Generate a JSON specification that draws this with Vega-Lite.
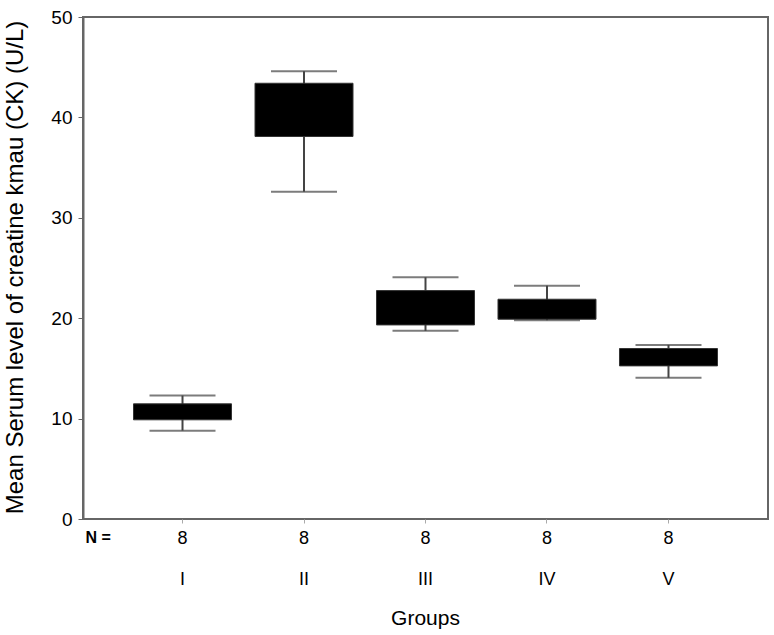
{
  "$schema": "https://vega.github.io/schema/vega-lite/v6.json",
  "width": 685,
  "height": 502,
  "autosize": {"type": "none"},
  "padding": {"left": 83, "top": 17, "right": 6, "bottom": 116},
  "background": "white",
  "config": {
    "font": "Liberation Sans",
    "view": {"stroke": "#666666", "strokeWidth": 2},
    "axis": {"grid": false, "labelColor": "black", "titleColor": "black", "titleFontWeight": "normal"},
    "title": {"font": "Liberation Sans", "fontWeight": "normal", "color": "black"}
  },
  "title": {"text": "Groups", "orient": "bottom", "anchor": "middle", "fontSize": 21, "offset": 20},
  "data": {
    "values": [
      {"group": "I", "n": 8, "lo": 8.8, "q1": 9.88, "q3": 11.47, "hi": 12.3},
      {"group": "II", "n": 8, "lo": 32.6, "q1": 38.1, "q3": 43.4, "hi": 44.6},
      {"group": "III", "n": 8, "lo": 18.74, "q1": 19.33, "q3": 22.75, "hi": 24.08},
      {"group": "IV", "n": 8, "lo": 19.8, "q1": 19.9, "q3": 21.89, "hi": 23.24},
      {"group": "V", "n": 8, "lo": 14.06, "q1": 15.25, "q3": 16.98, "hi": 17.34}
    ]
  },
  "encoding": {
    "x": {
      "field": "group",
      "type": "ordinal",
      "sort": ["I", "II", "III", "IV", "V"],
      "scale": {"type": "band", "paddingInner": 0, "paddingOuter": 0.319},
      "axis": {
        "title": "N =",
        "titleFontSize": 16,
        "titleFontWeight": "bold",
        "titleAnchor": "start",
        "titleAlign": "left",
        "titleX": 2,
        "titleY": 10,
        "titleBaseline": "top",
        "labelAngle": 0,
        "labelFontSize": 18,
        "labelLineHeight": 41,
        "labelPadding": 6,
        "labelExpr": "['8', datum.label]",
        "domain": false,
        "tickColor": "#aaaaaa",
        "tickSize": 4,
        "tickWidth": 1
      }
    }
  },
  "layer": [
    {
      "mark": {"type": "rule", "color": "#444444", "strokeWidth": 2},
      "encoding": {
        "y": {
          "field": "lo",
          "type": "quantitative",
          "scale": {"domain": [0, 50], "nice": false, "zero": true},
          "axis": {
            "values": [0, 10, 20, 30, 40, 50],
            "title": "Mean Serum level of creatine kmau (CK) (U/L)",
            "titleFontSize": 24,
            "titleY": 250,
            "titlePadding": 23,
            "labelFontSize": 19,
            "labelPadding": 6,
            "tickSize": 5,
            "tickColor": "#666666",
            "domainColor": "#666666",
            "domainWidth": 2
          }
        },
        "y2": {"field": "hi"}
      }
    },
    {
      "mark": {"type": "tick", "color": "#444444", "size": 66, "thickness": 2},
      "encoding": {"y": {"field": "lo", "type": "quantitative"}}
    },
    {
      "mark": {"type": "tick", "color": "#444444", "size": 66, "thickness": 2},
      "encoding": {"y": {"field": "hi", "type": "quantitative"}}
    },
    {
      "mark": {"type": "bar", "color": "black", "width": 98, "stroke": "#333333", "strokeWidth": 1},
      "encoding": {
        "y": {"field": "q1", "type": "quantitative"},
        "y2": {"field": "q3"}
      }
    }
  ]
}
